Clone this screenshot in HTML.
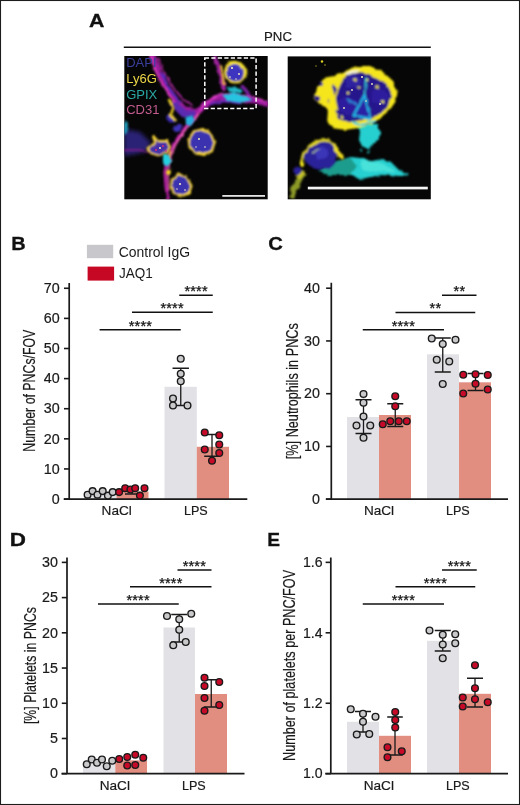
<!DOCTYPE html>
<html><head><meta charset="utf-8"><title>Figure</title>
<style>
html,body{margin:0;padding:0;background:#fff}
svg{display:block}
text{font-family:"Liberation Sans",sans-serif;fill:#1a1a1a}
.yt{stroke:#1a1a1a;stroke-width:0.2px}
.tk{stroke:#1a1a1a;stroke-width:0.2px}
.st{fill:#111;stroke:#111;stroke-width:0.25px}
.pl{fill:#111;stroke:#111;stroke-width:0.3px}
</style></head><body>
<svg width="520" height="805" viewBox="0 0 520 805">
<rect x="0" y="0" width="520" height="805" fill="#fff"/>
<rect x="0.5" y="0.5" width="519" height="804" fill="none" stroke="#1c1c1c" stroke-width="1.1"/>

<text x="88.9" y="27.2" font-size="19" font-weight="bold" class="pl" textLength="15.4" lengthAdjust="spacingAndGlyphs">A</text>
<text x="11.2" y="249.6" font-size="19" font-weight="bold" class="pl" textLength="14.4" lengthAdjust="spacingAndGlyphs">B</text>
<text x="268.2" y="249.9" font-size="19" font-weight="bold" class="pl" textLength="14.6" lengthAdjust="spacingAndGlyphs">C</text>
<text x="9.8" y="546" font-size="19" font-weight="bold" class="pl" textLength="16.2" lengthAdjust="spacingAndGlyphs">D</text>
<text x="267.2" y="546.2" font-size="19" font-weight="bold" class="pl" textLength="12.8" lengthAdjust="spacingAndGlyphs">E</text>
<text x="278" y="40.9" text-anchor="middle" font-size="13.2" class="tk">PNC</text>
<path d="M123.8 47.25H430.8" stroke="#111" stroke-width="1.4"/>
<defs>
<filter id="b1" x="-30%" y="-30%" width="160%" height="160%"><feGaussianBlur stdDeviation="1"/></filter>
<filter id="b2" x="-30%" y="-30%" width="160%" height="160%"><feGaussianBlur stdDeviation="2"/></filter>
<filter id="b05" x="-30%" y="-30%" width="160%" height="160%"><feGaussianBlur stdDeviation="0.6"/></filter>
<filter id="r2" x="-20%" y="-20%" width="140%" height="140%"><feTurbulence type="fractalNoise" baseFrequency="0.12" numOctaves="2" seed="3" result="n"/><feDisplacementMap in="SourceGraphic" in2="n" scale="5" xChannelSelector="R" yChannelSelector="G"/><feGaussianBlur stdDeviation="0.9"/></filter>
<filter id="r3" x="-20%" y="-20%" width="140%" height="140%"><feTurbulence type="fractalNoise" baseFrequency="0.14" numOctaves="2" seed="11" result="n"/><feDisplacementMap in="SourceGraphic" in2="n" scale="3.2" xChannelSelector="R" yChannelSelector="G"/><feGaussianBlur stdDeviation="0.9"/></filter>
<filter id="r1" x="-20%" y="-20%" width="140%" height="140%"><feTurbulence type="fractalNoise" baseFrequency="0.16" numOctaves="2" seed="7" result="n"/><feDisplacementMap in="SourceGraphic" in2="n" scale="3" xChannelSelector="R" yChannelSelector="G"/><feGaussianBlur stdDeviation="0.9"/></filter>
<clipPath id="c1"><rect x="124.3" y="56" width="143.4" height="143.3"/></clipPath>
<clipPath id="c2"><rect x="287.7" y="56.4" width="143.1" height="142.9"/></clipPath>
</defs>
<rect x="124.3" y="56" width="143.4" height="143.3" fill="#060606"/>
<g clip-path="url(#c1)">
<!-- dim blue haze left -->
<path d="M124 129 L140 132 L151 143 L147 151 L136 154 L124 156Z" fill="#2c2274" filter="url(#b2)"/>
<!-- vessel: wide magenta body -->
<g filter="url(#r1)" fill="none" stroke-linecap="round" stroke-linejoin="round">
<path d="M152 54 L158 70 L166 86 L176 100 L186 110 L198 112" stroke="#9a1c9c" stroke-width="5.5"/>
<path d="M174 104 L184 114 L194 114" stroke="#5a2ab0" stroke-width="7"/>
<path d="M198 112 L206 104 L216 98 L230 97 L246 100 L258 101 L268 104" stroke="#a01ca0" stroke-width="5.5"/>
<path d="M200 112 L193 120 L185 128 L178 138 L172 148 L167 160 L165 172 L166 186 L168 200" stroke="#b822a4" stroke-width="3.2"/>
<path d="M215 58 L219 68 L222 80 L224 90" stroke="#a020a0" stroke-width="4"/>
<path d="M242 86 L248 94 L252 100" stroke="#7a22a0" stroke-width="3.5"/>
<path d="M124 150 L140 150 L150 152" stroke="#8a1c8a" stroke-width="1.6"/>
<!-- bright edges -->
<path d="M150 56 L156 72 L164 88 L174 102" stroke="#f040d0" stroke-width="1.6"/>
<path d="M158 58 L164 72 L172 86 L182 98 L192 106" stroke="#d030c0" stroke-width="1.4"/>
<path d="M200 109 L208 101 L218 95 L232 94 L250 97 L266 101" stroke="#e040c8" stroke-width="1.5"/>
<path d="M199 114 L191 123 L183 133 L176 144 L170 158 L168 172 L169 190" stroke="#f060b8" stroke-width="1.5"/>
<!-- purple/blue inner -->
<path d="M162 74 L170 90 L180 102" stroke="#5a2cc0" stroke-width="2.5"/>
<path d="M210 104 L224 101 L240 103" stroke="#6a2cc0" stroke-width="2.5"/>
</g>
<!-- nuclei in vessel -->
<g filter="url(#r1)">
<ellipse cx="171" cy="119" rx="5" ry="4" fill="#3a2cb0" transform="rotate(40 171 119)"/>
<ellipse cx="178" cy="128" rx="5" ry="3.5" fill="#4030b8" transform="rotate(-35 178 128)"/>
<path d="M169 100 L173 108 L171 115 L175 120" fill="none" stroke="#f0d020" stroke-width="2.4" stroke-linecap="round"/>
<path d="M221 66 L223 76 L223.500 84" fill="none" stroke="#f0c830" stroke-width="2" stroke-linecap="round"/>
<circle cx="168.500" cy="172.500" r="2.4" fill="#f4d820"/>
<path d="M171 150 L167 162" fill="none" stroke="#f0d020" stroke-width="1.6"/>
</g>
<!-- cyan patches -->
<g filter="url(#r1)">
<path d="M185.500 117 L192 115 L194.500 120 L191 126 L186 124.500Z" fill="#28b0e0"/>
<path d="M163 154 L169 155 L171 162 L168 166 L163 163Z" fill="#22d0e0"/>
<path d="M226 87 L240 88 L243 92 L232 93Z" fill="#20b8c8"/>
<path d="M222 95 L234 93 L246 96 L252 100 L240 103 L228 101Z" fill="#28c4e0"/>
<path d="M124 120 L128 124 L127 133 L124 134Z" fill="#20a0c0"/>
</g>
<!-- cells -->
<g filter="url(#r1)">
<!-- cell1 in box -->
<ellipse cx="235" cy="72.500" rx="10" ry="10" fill="#3c34c0" stroke="#f4dc28" stroke-width="2.2"/>
<path d="M230 63 C238 60 246 66 246 76" fill="none" stroke="#f8e428" stroke-width="3" stroke-linecap="round"/>
<!-- cell2 -->
<path d="M188.500 139 L194 131 L203 129 L211 134 L214.500 143 L212 151 L204 155 L195 153 L189.500 147Z" fill="#3a30b0" stroke="#ffdc30" stroke-width="2" stroke-linejoin="round"/>
<!-- cell3 -->
<path d="M147.500 148 L155 143 L153 136.500 L159 141 L167 141 L170 147 L167 153 L158 155.500 L150 153Z" fill="#4a30a8" stroke="#ffdc30" stroke-width="1.8" stroke-linejoin="round"/>
<!-- cell4 -->
<path d="M171.500 180 L178 174.500 L186 176 L191.500 186 L189 193 L181 196.500 L174 194 L171.500 187Z" fill="#3a30b0" stroke="#ffdc30" stroke-width="2" stroke-linejoin="round"/>
</g>
<g filter="url(#b05)">
<g fill="#fff6c8">
<circle cx="232" cy="68" r="1"/><circle cx="239" cy="74" r="0.9"/><circle cx="230" cy="77" r="0.8"/><circle cx="236" cy="79" r="0.7"/>
<circle cx="199" cy="139" r="0.9"/><circle cx="205" cy="147" r="0.8"/><circle cx="196" cy="147" r="0.7"/><circle cx="180" cy="184" r="1"/><circle cx="185" cy="190" r="0.8"/><circle cx="177" cy="189" r="0.7"/>
<circle cx="160" cy="148" r="0.9"/>
</g>
<g fill="#e03070"><circle cx="156" cy="150" r="0.9"/><circle cx="163" cy="146" r="0.9"/><circle cx="166" cy="151" r="0.8"/></g>
</g>
<!-- dashed box -->
<rect x="204.8" y="57.900" width="51.3" height="50.5" fill="none" stroke="#fff" stroke-width="1.5" stroke-dasharray="4.2 2.3"/>
<!-- scale bar -->
<rect x="222.3" y="195" width="42.7" height="1.8" fill="#e4e4e4"/>
</g>
<g font-size="13">
<text x="126.2" y="67.2" style="fill:#3a3e9c">DAPI</text>
<text x="126.2" y="82.8" style="fill:#ecd548">Ly6G</text>
<text x="126.2" y="98.5" style="fill:#2aa8a4">GPIX</text>
<text x="126.2" y="113.9" style="fill:#c25c8e">CD31</text>
</g>

<rect x="287.7" y="56.4" width="143.1" height="142.9" fill="#060606"/>
<g clip-path="url(#c2)">
<!-- cyan stalk + horizontal spread -->
<g filter="url(#r2)">
<path d="M356 124 L378 124 L380 132 L378 140 L373 145 L368 149 L362 146 L359 140 L360 132Z" fill="#27cfd0"/>
<circle cx="368.500" cy="151.500" r="1.3" fill="#27cfd0"/><circle cx="361" cy="150" r="1" fill="#27cfd0"/>
<path d="M351 157 L360 158 L371 161 L383 159 L392 163 L398 169 L409 175 L398 177 L382 175 L370 177 L360 179 L352 175 L338 175 L328 175 L319 171 L326 166 L337 161Z" fill="#27cfd0"/>
<path d="M319 171 L326 166 L337 161 L351 158 L356 166 L350 175 L338 175 L328 175Z" fill="#1c9c8c"/>
<path d="M360 161 L384 163 L396 171 L378 172 L362 169Z" fill="#48e2da"/>
</g>
<!-- yellow-green trail -->
<g filter="url(#r2)">
<path d="M289 197 L292 186 L297 178 L303 172 L307 174 L301 182 L297 190 L294 198Z" fill="#8c9a28"/>
<path d="M296 176 L303 170 L306 173 L300 179Z" fill="#c8c428"/>
<circle cx="298" cy="170.5" r="3.6" fill="#2a249a"/>
</g>
<!-- small cell -->
<g filter="url(#r2)">
<path d="M304 158 L307 148 L315 142 L326 141 L334 146 L338 153 L336 162 L330 168 L320 170 L310 167Z" fill="#2a2298"/>
<path d="M314 150 L322 146 L328 150 L326 158 L318 160Z" fill="#3a34b8"/>
<path d="M302 164 L304 155 L308 147 L316 141.5 L327 140 L335 145 L339 152 L342.5 157.500" fill="none" stroke="#e0d422" stroke-width="2.6" stroke-linecap="round" stroke-linejoin="round"/>
<circle cx="302.5" cy="163.5" r="2.6" fill="#f4e820"/>
<path d="M334 146 L339 152 L342 158" fill="none" stroke="#f0e020" stroke-width="3" stroke-linecap="round"/>
<path d="M312 152 L320 149" stroke="#a8b890" stroke-width="1.4" fill="none"/>
</g>
<!-- big cell -->
<g filter="url(#r3)">
<path d="M342.500 73.200 L355 66 L370 66 L382.300 71.400 L391.400 79.500 L397.700 89.500 L396 101 L389.600 110.200 L380.500 117.500 L371.500 124.700 L360.600 127.400 L346.200 130.100 L333.500 128.300 L327.200 121.100 L328 110.200 L320.800 104.800 L314.500 99.400 L317.200 86.700 L324.500 77.700 L333.500 75.900Z" fill="#f4e51c"/>
<path d="M344.400 76.500 L360.600 72 L369.700 74.500 L386 84 L391.500 95.800 L387 108 L376.900 115.700 L364.200 119.300 L349.800 122.500 L338 119 L334.500 106.600 L336 95.800 L339.500 86.700Z" fill="#27198c"/>
<!-- left mottling -->
<circle cx="317.500" cy="98.500" r="2.6" fill="#27198c"/>
<circle cx="321" cy="84" r="2" fill="#3a2ca0"/>
<circle cx="330" cy="100" r="2.200" fill="#27198c"/>
<path d="M327 88 L333 84 L337 90 L333 97 L328 95Z" fill="#2f2298"/>
<path d="M325.400 80 L331 84 L335 96 L338 110 L333 110 L328 98 L323 88Z" fill="#f4e51c"/>
<!-- lighter lobes -->
<path d="M345 78 L356 75 L362 81 L357 88 L347 87Z" fill="#2e20a0"/>
<path d="M337 101 L347 97 L356 100 L358 110 L348 115 L340 111Z" fill="#2d1f9e"/>
<path d="M372 90 L384 89 L388 98 L380 106 L372 101Z" fill="#2d1f9e"/>
<!-- highlights -->
<path d="M344 74 L352 70.500 L360 70 L356 73.500 L348 76Z" fill="#f4f0d8"/>
<g fill="#ece04a"><circle cx="355" cy="80" r="1.8"/><circle cx="359" cy="87" r="1.6"/><circle cx="377" cy="87" r="1.7"/><circle cx="382.500" cy="101" r="1.7"/><circle cx="342.500" cy="117" r="2"/><circle cx="367" cy="80" r="1.4"/><circle cx="348" cy="93" r="1.3"/></g>
<!-- cyan triangle -->
<path d="M364.500 95 L353.500 115.500 L370.500 119Z" fill="#2c22a4" stroke="#22b2e4" stroke-width="2.300" stroke-linejoin="round"/>
<path d="M366 77 L365 88 L364.500 95" stroke="#30c8d8" stroke-width="1.400" fill="none"/>
<path d="M347 99 L357 105" stroke="#2aa6e6" stroke-width="1.300" fill="none"/>
<path d="M352 122.500 L364 124.500 L376 121" stroke="#40d0e0" stroke-width="2" fill="none"/>
</g>
<g filter="url(#b05)" fill="#f4f0c0">
<circle cx="362" cy="77" r="1"/><circle cx="372" cy="84" r="0.900"/><circle cx="352" cy="90" r="0.900"/><circle cx="380" cy="104" r="0.900"/><circle cx="344" cy="108" r="0.900"/><circle cx="366" cy="101" r="0.800"/>
<circle cx="322" cy="61.500" r="1.200" fill="#d8d020"/><circle cx="325" cy="65" r="0.800" fill="#a8a020"/><circle cx="316" cy="66" r="0.800" fill="#8a8420"/>
</g>
<rect x="307.8" y="186.7" width="120" height="2.7" fill="#f4f4f4"/>
</g>

<rect x="86.9" y="244.8" width="26.3" height="13.4" fill="#c8c8cc"/>
<rect x="87.6" y="266.6" width="26.5" height="14" fill="#c70824"/>
<text x="118.7" y="256.7" font-size="14" textLength="71.3" lengthAdjust="spacingAndGlyphs">Control IgG</text>
<text x="118.9" y="278.2" font-size="14" textLength="33.8" lengthAdjust="spacingAndGlyphs">JAQ1</text>
<rect x="84.5" y="494.5" width="32.0" height="4.550000000000011" fill="#e2e1e6"/>
<rect x="116.5" y="491.6" width="32.0" height="7.449999999999989" fill="#e18e80"/>
<rect x="164.5" y="386.8" width="32.30000000000001" height="112.25" fill="#e2e1e6"/>
<rect x="196.8" y="446.8" width="32.19999999999999" height="52.25" fill="#e18e80"/>
<path d="M69.2 282.9V499.05M63.7 499.05H247.3" stroke="#1a1a1a" stroke-width="1.7" fill="none"/>
<path d="M64.0 499.05H69.2" stroke="#1a1a1a" stroke-width="1.6"/>
<text x="59.6" y="503.75" text-anchor="end" font-size="14.3" class="tk">0</text>
<path d="M64.0 468.94H69.2" stroke="#1a1a1a" stroke-width="1.6"/>
<text x="59.6" y="473.64" text-anchor="end" font-size="14.3" class="tk">10</text>
<path d="M64.0 438.83H69.2" stroke="#1a1a1a" stroke-width="1.6"/>
<text x="59.6" y="443.53" text-anchor="end" font-size="14.3" class="tk">20</text>
<path d="M64.0 408.72H69.2" stroke="#1a1a1a" stroke-width="1.6"/>
<text x="59.6" y="413.42" text-anchor="end" font-size="14.3" class="tk">30</text>
<path d="M64.0 378.61H69.2" stroke="#1a1a1a" stroke-width="1.6"/>
<text x="59.6" y="383.31" text-anchor="end" font-size="14.3" class="tk">40</text>
<path d="M64.0 348.5H69.2" stroke="#1a1a1a" stroke-width="1.6"/>
<text x="59.6" y="353.2" text-anchor="end" font-size="14.3" class="tk">50</text>
<path d="M64.0 318.39H69.2" stroke="#1a1a1a" stroke-width="1.6"/>
<text x="59.6" y="323.09" text-anchor="end" font-size="14.3" class="tk">60</text>
<path d="M64.0 288.28H69.2" stroke="#1a1a1a" stroke-width="1.6"/>
<text x="59.6" y="292.97999999999996" text-anchor="end" font-size="14.3" class="tk">70</text>
<path d="M180.75 368.25V405.5M172.55 368.25H188.95M172.55 405.5H188.95" stroke="#1a1a1a" stroke-width="1.3" fill="none"/>
<path d="M212 434.5V456.25M204.2 434.5H219.8M204.2 456.25H219.8" stroke="#1a1a1a" stroke-width="1.3" fill="none"/>
<path d="M132 489.2V494M125 489.2H139M125 494H139" stroke="#1a1a1a" stroke-width="1.3" fill="none"/>
<circle cx="87.6" cy="494.7" r="3.35" fill="#c9c9cc" stroke="#1a1a1a" stroke-width="1.4"/>
<circle cx="92.6" cy="491.1" r="3.35" fill="#c9c9cc" stroke="#1a1a1a" stroke-width="1.4"/>
<circle cx="97.5" cy="494.7" r="3.35" fill="#c9c9cc" stroke="#1a1a1a" stroke-width="1.4"/>
<circle cx="102.7" cy="491.1" r="3.35" fill="#c9c9cc" stroke="#1a1a1a" stroke-width="1.4"/>
<circle cx="107.9" cy="495.6" r="3.35" fill="#c9c9cc" stroke="#1a1a1a" stroke-width="1.4"/>
<circle cx="112.7" cy="492.1" r="3.35" fill="#c9c9cc" stroke="#1a1a1a" stroke-width="1.4"/>
<circle cx="119.1" cy="492.1" r="3.35" fill="#c60a28" stroke="#1a1a1a" stroke-width="1.4"/>
<circle cx="125.2" cy="488.2" r="3.35" fill="#c60a28" stroke="#1a1a1a" stroke-width="1.4"/>
<circle cx="130.4" cy="489.5" r="3.35" fill="#c60a28" stroke="#1a1a1a" stroke-width="1.4"/>
<circle cx="135.2" cy="488.2" r="3.35" fill="#c60a28" stroke="#1a1a1a" stroke-width="1.4"/>
<circle cx="139.9" cy="495.6" r="3.35" fill="#c60a28" stroke="#1a1a1a" stroke-width="1.4"/>
<circle cx="144.5" cy="488.2" r="3.35" fill="#c60a28" stroke="#1a1a1a" stroke-width="1.4"/>
<circle cx="180.75" cy="358.75" r="3.35" fill="#c9c9cc" stroke="#1a1a1a" stroke-width="1.4"/>
<circle cx="180.75" cy="373.75" r="3.35" fill="#c9c9cc" stroke="#1a1a1a" stroke-width="1.4"/>
<circle cx="180.75" cy="381.25" r="3.35" fill="#c9c9cc" stroke="#1a1a1a" stroke-width="1.4"/>
<circle cx="173" cy="398.5" r="3.35" fill="#c9c9cc" stroke="#1a1a1a" stroke-width="1.4"/>
<circle cx="173" cy="405.5" r="3.35" fill="#c9c9cc" stroke="#1a1a1a" stroke-width="1.4"/>
<circle cx="187.5" cy="405.5" r="3.35" fill="#c9c9cc" stroke="#1a1a1a" stroke-width="1.4"/>
<circle cx="204.75" cy="432.5" r="3.35" fill="#c60a28" stroke="#1a1a1a" stroke-width="1.4"/>
<circle cx="219.25" cy="435.25" r="3.35" fill="#c60a28" stroke="#1a1a1a" stroke-width="1.4"/>
<circle cx="219.25" cy="444.5" r="3.35" fill="#c60a28" stroke="#1a1a1a" stroke-width="1.4"/>
<circle cx="204.75" cy="449.5" r="3.35" fill="#c60a28" stroke="#1a1a1a" stroke-width="1.4"/>
<circle cx="219.25" cy="453" r="3.35" fill="#c60a28" stroke="#1a1a1a" stroke-width="1.4"/>
<circle cx="212" cy="460.75" r="3.35" fill="#c60a28" stroke="#1a1a1a" stroke-width="1.4"/>
<path d="M179.25 295.3H212.75" stroke="#111" stroke-width="1.5"/>
<text x="196" y="296.2" text-anchor="middle" font-size="14.5" class="st" textLength="23.2" lengthAdjust="spacing">****</text>
<path d="M132 312.3H212.75" stroke="#111" stroke-width="1.5"/>
<text x="172" y="313.2" text-anchor="middle" font-size="14.5" class="st" textLength="23.2" lengthAdjust="spacing">****</text>
<path d="M99.6 329.7H180.75" stroke="#111" stroke-width="1.5"/>
<text x="140.3" y="330.59999999999997" text-anchor="middle" font-size="14.5" class="st" textLength="23.2" lengthAdjust="spacing">****</text>
<text x="116.7" y="514.8" text-anchor="middle" font-size="13.6" class="tk">NaCl</text>
<text x="195.8" y="514.8" text-anchor="middle" font-size="13.6" class="tk" textLength="23.8" lengthAdjust="spacingAndGlyphs">LPS</text>
<text transform="translate(35 390.65) rotate(-90)" text-anchor="middle" font-size="17" class="yt" textLength="122" lengthAdjust="spacingAndGlyphs">Number of PNCs/FOV</text>
<rect x="347" y="417" width="32" height="82.19999999999999" fill="#e2e1e6"/>
<rect x="379" y="415" width="32" height="84.19999999999999" fill="#e18e80"/>
<rect x="427" y="354.3" width="32" height="144.89999999999998" fill="#e2e1e6"/>
<rect x="459" y="382.3" width="32" height="116.89999999999998" fill="#e18e80"/>
<path d="M331.3 282.7V499.2M325.8 499.2H508" stroke="#1a1a1a" stroke-width="1.7" fill="none"/>
<path d="M326.1 499.2H331.3" stroke="#1a1a1a" stroke-width="1.6"/>
<text x="320" y="503.9" text-anchor="end" font-size="14.3" class="tk">0</text>
<path d="M326.1 446.45H331.3" stroke="#1a1a1a" stroke-width="1.6"/>
<text x="320" y="451.15" text-anchor="end" font-size="14.3" class="tk">10</text>
<path d="M326.1 393.7H331.3" stroke="#1a1a1a" stroke-width="1.6"/>
<text x="320" y="398.4" text-anchor="end" font-size="14.3" class="tk">20</text>
<path d="M326.1 340.95H331.3" stroke="#1a1a1a" stroke-width="1.6"/>
<text x="320" y="345.65" text-anchor="end" font-size="14.3" class="tk">30</text>
<path d="M326.1 288.2H331.3" stroke="#1a1a1a" stroke-width="1.6"/>
<text x="320" y="292.9" text-anchor="end" font-size="14.3" class="tk">40</text>
<path d="M363.5 399.75V433.5M355.5 399.75H371.5M355.5 433.5H371.5" stroke="#1a1a1a" stroke-width="1.3" fill="none"/>
<path d="M395.25 403.75V426.5M387.25 403.75H403.25M387.25 426.5H403.25" stroke="#1a1a1a" stroke-width="1.3" fill="none"/>
<path d="M442.75 338V372M434.75 338H450.75M434.75 372H450.75" stroke="#1a1a1a" stroke-width="1.3" fill="none"/>
<path d="M475.5 373.5V390.5M467.5 373.5H483.5M467.5 390.5H483.5" stroke="#1a1a1a" stroke-width="1.3" fill="none"/>
<circle cx="363.5" cy="394" r="3.35" fill="#c9c9cc" stroke="#1a1a1a" stroke-width="1.4"/>
<circle cx="363.5" cy="402.75" r="3.35" fill="#c9c9cc" stroke="#1a1a1a" stroke-width="1.4"/>
<circle cx="363.5" cy="416.5" r="3.35" fill="#c9c9cc" stroke="#1a1a1a" stroke-width="1.4"/>
<circle cx="356.5" cy="425.5" r="3.35" fill="#c9c9cc" stroke="#1a1a1a" stroke-width="1.4"/>
<circle cx="370.25" cy="425.5" r="3.35" fill="#c9c9cc" stroke="#1a1a1a" stroke-width="1.4"/>
<circle cx="363.5" cy="437.75" r="3.35" fill="#c9c9cc" stroke="#1a1a1a" stroke-width="1.4"/>
<circle cx="395.25" cy="396.25" r="3.35" fill="#c60a28" stroke="#1a1a1a" stroke-width="1.4"/>
<circle cx="395.25" cy="406.25" r="3.35" fill="#c60a28" stroke="#1a1a1a" stroke-width="1.4"/>
<circle cx="382.75" cy="424.25" r="3.35" fill="#c60a28" stroke="#1a1a1a" stroke-width="1.4"/>
<circle cx="390.25" cy="421.25" r="3.35" fill="#c60a28" stroke="#1a1a1a" stroke-width="1.4"/>
<circle cx="398.75" cy="421.25" r="3.35" fill="#c60a28" stroke="#1a1a1a" stroke-width="1.4"/>
<circle cx="406.75" cy="421.25" r="3.35" fill="#c60a28" stroke="#1a1a1a" stroke-width="1.4"/>
<circle cx="431.75" cy="338.5" r="3.35" fill="#c9c9cc" stroke="#1a1a1a" stroke-width="1.4"/>
<circle cx="455.5" cy="339.75" r="3.35" fill="#c9c9cc" stroke="#1a1a1a" stroke-width="1.4"/>
<circle cx="442.75" cy="344" r="3.35" fill="#c9c9cc" stroke="#1a1a1a" stroke-width="1.4"/>
<circle cx="436.75" cy="359.75" r="3.35" fill="#c9c9cc" stroke="#1a1a1a" stroke-width="1.4"/>
<circle cx="449.25" cy="361.5" r="3.35" fill="#c9c9cc" stroke="#1a1a1a" stroke-width="1.4"/>
<circle cx="442.75" cy="384" r="3.35" fill="#c9c9cc" stroke="#1a1a1a" stroke-width="1.4"/>
<circle cx="463.25" cy="374.75" r="3.35" fill="#c60a28" stroke="#1a1a1a" stroke-width="1.4"/>
<circle cx="475.5" cy="374.25" r="3.35" fill="#c60a28" stroke="#1a1a1a" stroke-width="1.4"/>
<circle cx="487.75" cy="375" r="3.35" fill="#c60a28" stroke="#1a1a1a" stroke-width="1.4"/>
<circle cx="475.5" cy="383.75" r="3.35" fill="#c60a28" stroke="#1a1a1a" stroke-width="1.4"/>
<circle cx="463.25" cy="393.5" r="3.35" fill="#c60a28" stroke="#1a1a1a" stroke-width="1.4"/>
<circle cx="487.75" cy="389.5" r="3.35" fill="#c60a28" stroke="#1a1a1a" stroke-width="1.4"/>
<path d="M442 295.3H476.5" stroke="#111" stroke-width="1.5"/>
<text x="459.25" y="296.2" text-anchor="middle" font-size="14.5" class="st" textLength="11.6" lengthAdjust="spacing">**</text>
<path d="M395.5 312.5H475.25" stroke="#111" stroke-width="1.5"/>
<text x="435.25" y="313.4" text-anchor="middle" font-size="14.5" class="st" textLength="11.6" lengthAdjust="spacing">**</text>
<path d="M362.75 329.7H444" stroke="#111" stroke-width="1.5"/>
<text x="403.25" y="330.59999999999997" text-anchor="middle" font-size="14.5" class="st" textLength="23.2" lengthAdjust="spacing">****</text>
<text x="379" y="514.8" text-anchor="middle" font-size="13.6" class="tk">NaCl</text>
<text x="457.8" y="514.8" text-anchor="middle" font-size="13.6" class="tk" textLength="23.8" lengthAdjust="spacingAndGlyphs">LPS</text>
<text transform="translate(297.6 391.2) rotate(-90)" text-anchor="middle" font-size="17" class="yt" textLength="136" lengthAdjust="spacingAndGlyphs">[%] Neutrophils in PNCs</text>
<rect x="83" y="763.8" width="32.3" height="9.900000000000091" fill="#e2e1e6"/>
<rect x="115.3" y="760.3" width="31.700000000000003" height="13.400000000000091" fill="#e18e80"/>
<rect x="163.5" y="627.5" width="31.5" height="146.20000000000005" fill="#e2e1e6"/>
<rect x="195" y="694" width="32" height="79.70000000000005" fill="#e18e80"/>
<path d="M67 557.5V773.7M61.5 773.7H244.5" stroke="#1a1a1a" stroke-width="1.7" fill="none"/>
<path d="M61.8 773.7H67" stroke="#1a1a1a" stroke-width="1.6"/>
<text x="58" y="778.4000000000001" text-anchor="end" font-size="14.3" class="tk">0</text>
<path d="M61.8 738.48H67" stroke="#1a1a1a" stroke-width="1.6"/>
<text x="58" y="743.1800000000001" text-anchor="end" font-size="14.3" class="tk">5</text>
<path d="M61.8 703.26H67" stroke="#1a1a1a" stroke-width="1.6"/>
<text x="58" y="707.96" text-anchor="end" font-size="14.3" class="tk">10</text>
<path d="M61.8 668.04H67" stroke="#1a1a1a" stroke-width="1.6"/>
<text x="58" y="672.74" text-anchor="end" font-size="14.3" class="tk">15</text>
<path d="M61.8 632.82H67" stroke="#1a1a1a" stroke-width="1.6"/>
<text x="58" y="637.5200000000001" text-anchor="end" font-size="14.3" class="tk">20</text>
<path d="M61.8 597.6H67" stroke="#1a1a1a" stroke-width="1.6"/>
<text x="58" y="602.3000000000001" text-anchor="end" font-size="14.3" class="tk">25</text>
<path d="M61.8 562.38H67" stroke="#1a1a1a" stroke-width="1.6"/>
<text x="58" y="567.08" text-anchor="end" font-size="14.3" class="tk">30</text>
<path d="M179.25 614.5V642M171.25 614.5H187.25M171.25 642H187.25" stroke="#1a1a1a" stroke-width="1.3" fill="none"/>
<path d="M211.25 679.75V707M203.75 679.75H218.75M203.75 707H218.75" stroke="#1a1a1a" stroke-width="1.3" fill="none"/>
<circle cx="86.75" cy="764.25" r="3.35" fill="#c9c9cc" stroke="#1a1a1a" stroke-width="1.4"/>
<circle cx="91.75" cy="759.5" r="3.35" fill="#c9c9cc" stroke="#1a1a1a" stroke-width="1.4"/>
<circle cx="97" cy="762.75" r="3.35" fill="#c9c9cc" stroke="#1a1a1a" stroke-width="1.4"/>
<circle cx="102" cy="759.5" r="3.35" fill="#c9c9cc" stroke="#1a1a1a" stroke-width="1.4"/>
<circle cx="106.75" cy="766.25" r="3.35" fill="#c9c9cc" stroke="#1a1a1a" stroke-width="1.4"/>
<circle cx="112.25" cy="760.75" r="3.35" fill="#c9c9cc" stroke="#1a1a1a" stroke-width="1.4"/>
<circle cx="119.25" cy="759" r="3.35" fill="#c60a28" stroke="#1a1a1a" stroke-width="1.4"/>
<circle cx="127.25" cy="757" r="3.35" fill="#c60a28" stroke="#1a1a1a" stroke-width="1.4"/>
<circle cx="135.25" cy="754.75" r="3.35" fill="#c60a28" stroke="#1a1a1a" stroke-width="1.4"/>
<circle cx="143.25" cy="757.75" r="3.35" fill="#c60a28" stroke="#1a1a1a" stroke-width="1.4"/>
<circle cx="127.25" cy="765.5" r="3.35" fill="#c60a28" stroke="#1a1a1a" stroke-width="1.4"/>
<circle cx="135.25" cy="765" r="3.35" fill="#c60a28" stroke="#1a1a1a" stroke-width="1.4"/>
<circle cx="167" cy="616" r="3.35" fill="#c9c9cc" stroke="#1a1a1a" stroke-width="1.4"/>
<circle cx="191.25" cy="613.75" r="3.35" fill="#c9c9cc" stroke="#1a1a1a" stroke-width="1.4"/>
<circle cx="179.25" cy="619.25" r="3.35" fill="#c9c9cc" stroke="#1a1a1a" stroke-width="1.4"/>
<circle cx="179.25" cy="629.75" r="3.35" fill="#c9c9cc" stroke="#1a1a1a" stroke-width="1.4"/>
<circle cx="185.75" cy="642" r="3.35" fill="#c9c9cc" stroke="#1a1a1a" stroke-width="1.4"/>
<circle cx="173.25" cy="645.25" r="3.35" fill="#c9c9cc" stroke="#1a1a1a" stroke-width="1.4"/>
<circle cx="204.5" cy="677.75" r="3.35" fill="#c60a28" stroke="#1a1a1a" stroke-width="1.4"/>
<circle cx="219.25" cy="682" r="3.35" fill="#c60a28" stroke="#1a1a1a" stroke-width="1.4"/>
<circle cx="204.5" cy="686" r="3.35" fill="#c60a28" stroke="#1a1a1a" stroke-width="1.4"/>
<circle cx="204.5" cy="698" r="3.35" fill="#c60a28" stroke="#1a1a1a" stroke-width="1.4"/>
<circle cx="219.25" cy="705" r="3.35" fill="#c60a28" stroke="#1a1a1a" stroke-width="1.4"/>
<circle cx="204.5" cy="710.75" r="3.35" fill="#c60a28" stroke="#1a1a1a" stroke-width="1.4"/>
<path d="M177.5 570H211.5" stroke="#111" stroke-width="1.5"/>
<text x="194.25" y="570.9" text-anchor="middle" font-size="14.5" class="st" textLength="23.2" lengthAdjust="spacing">****</text>
<path d="M130 586.8H211.5" stroke="#111" stroke-width="1.5"/>
<text x="170.75" y="587.6999999999999" text-anchor="middle" font-size="14.5" class="st" textLength="23.2" lengthAdjust="spacing">****</text>
<path d="M98 604.1H178.75" stroke="#111" stroke-width="1.5"/>
<text x="138" y="605.0" text-anchor="middle" font-size="14.5" class="st" textLength="23.2" lengthAdjust="spacing">****</text>
<text x="114.8" y="790.2" text-anchor="middle" font-size="13.6" class="tk">NaCl</text>
<text x="193.8" y="790.2" text-anchor="middle" font-size="13.6" class="tk" textLength="23.8" lengthAdjust="spacingAndGlyphs">LPS</text>
<text transform="translate(35.8 665.55) rotate(-90)" text-anchor="middle" font-size="17" class="yt" textLength="117.1" lengthAdjust="spacingAndGlyphs">[%] Platelets in PNCs</text>
<rect x="347" y="721.8" width="32" height="51.90000000000009" fill="#e2e1e6"/>
<rect x="379" y="735.8" width="32" height="37.90000000000009" fill="#e18e80"/>
<rect x="427" y="640.8" width="32" height="132.9000000000001" fill="#e2e1e6"/>
<rect x="459" y="693.8" width="32" height="79.90000000000009" fill="#e18e80"/>
<path d="M330.8 557.5V773.7M325.3 773.7H508" stroke="#1a1a1a" stroke-width="1.7" fill="none"/>
<path d="M325.6 773.7H330.8" stroke="#1a1a1a" stroke-width="1.6"/>
<text x="322.6" y="778.4000000000001" text-anchor="end" font-size="14.3" class="tk" textLength="19.6" lengthAdjust="spacingAndGlyphs">1.0</text>
<path d="M325.6 703.25H330.8" stroke="#1a1a1a" stroke-width="1.6"/>
<text x="322.6" y="707.95" text-anchor="end" font-size="14.3" class="tk" textLength="19.6" lengthAdjust="spacingAndGlyphs">1.2</text>
<path d="M325.6 632.8H330.8" stroke="#1a1a1a" stroke-width="1.6"/>
<text x="322.6" y="637.5" text-anchor="end" font-size="14.3" class="tk" textLength="19.6" lengthAdjust="spacingAndGlyphs">1.4</text>
<path d="M325.6 562.35H330.8" stroke="#1a1a1a" stroke-width="1.6"/>
<text x="322.6" y="567.0500000000001" text-anchor="end" font-size="14.3" class="tk" textLength="19.6" lengthAdjust="spacingAndGlyphs">1.6</text>
<path d="M363 711.5V732M355 711.5H371M355 732H371" stroke="#1a1a1a" stroke-width="1.3" fill="none"/>
<path d="M395 717V755M387.2 717H402.8M387.2 755H402.8" stroke="#1a1a1a" stroke-width="1.3" fill="none"/>
<path d="M442.75 630.5V651M434.75 630.5H450.75M434.75 651H450.75" stroke="#1a1a1a" stroke-width="1.3" fill="none"/>
<path d="M475 678.25V707M467 678.25H483M467 707H483" stroke="#1a1a1a" stroke-width="1.3" fill="none"/>
<circle cx="350.75" cy="709.25" r="3.35" fill="#c9c9cc" stroke="#1a1a1a" stroke-width="1.4"/>
<circle cx="363" cy="713.75" r="3.35" fill="#c9c9cc" stroke="#1a1a1a" stroke-width="1.4"/>
<circle cx="375.5" cy="716.75" r="3.35" fill="#c9c9cc" stroke="#1a1a1a" stroke-width="1.4"/>
<circle cx="363" cy="721.75" r="3.35" fill="#c9c9cc" stroke="#1a1a1a" stroke-width="1.4"/>
<circle cx="356.75" cy="734.5" r="3.35" fill="#c9c9cc" stroke="#1a1a1a" stroke-width="1.4"/>
<circle cx="369.25" cy="734" r="3.35" fill="#c9c9cc" stroke="#1a1a1a" stroke-width="1.4"/>
<circle cx="395.25" cy="712" r="3.35" fill="#c60a28" stroke="#1a1a1a" stroke-width="1.4"/>
<circle cx="395.25" cy="720" r="3.35" fill="#c60a28" stroke="#1a1a1a" stroke-width="1.4"/>
<circle cx="395.25" cy="727.5" r="3.35" fill="#c60a28" stroke="#1a1a1a" stroke-width="1.4"/>
<circle cx="387.5" cy="747.25" r="3.35" fill="#c60a28" stroke="#1a1a1a" stroke-width="1.4"/>
<circle cx="401.75" cy="751.25" r="3.35" fill="#c60a28" stroke="#1a1a1a" stroke-width="1.4"/>
<circle cx="387.5" cy="757.25" r="3.35" fill="#c60a28" stroke="#1a1a1a" stroke-width="1.4"/>
<circle cx="429.5" cy="630.5" r="3.35" fill="#c9c9cc" stroke="#1a1a1a" stroke-width="1.4"/>
<circle cx="442.75" cy="634.75" r="3.35" fill="#c9c9cc" stroke="#1a1a1a" stroke-width="1.4"/>
<circle cx="455.25" cy="634.25" r="3.35" fill="#c9c9cc" stroke="#1a1a1a" stroke-width="1.4"/>
<circle cx="442.75" cy="644.5" r="3.35" fill="#c9c9cc" stroke="#1a1a1a" stroke-width="1.4"/>
<circle cx="455.25" cy="643.25" r="3.35" fill="#c9c9cc" stroke="#1a1a1a" stroke-width="1.4"/>
<circle cx="442.75" cy="658.25" r="3.35" fill="#c9c9cc" stroke="#1a1a1a" stroke-width="1.4"/>
<circle cx="475" cy="665.25" r="3.35" fill="#c60a28" stroke="#1a1a1a" stroke-width="1.4"/>
<circle cx="475" cy="688.25" r="3.35" fill="#c60a28" stroke="#1a1a1a" stroke-width="1.4"/>
<circle cx="462.75" cy="697.5" r="3.35" fill="#c60a28" stroke="#1a1a1a" stroke-width="1.4"/>
<circle cx="475" cy="699.25" r="3.35" fill="#c60a28" stroke="#1a1a1a" stroke-width="1.4"/>
<circle cx="487.75" cy="702.25" r="3.35" fill="#c60a28" stroke="#1a1a1a" stroke-width="1.4"/>
<circle cx="462.75" cy="706.5" r="3.35" fill="#c60a28" stroke="#1a1a1a" stroke-width="1.4"/>
<path d="M442 570H476.75" stroke="#111" stroke-width="1.5"/>
<text x="459.25" y="570.9" text-anchor="middle" font-size="14.5" class="st" textLength="23.2" lengthAdjust="spacing">****</text>
<path d="M395.5 586.8H475.25" stroke="#111" stroke-width="1.5"/>
<text x="435.25" y="587.6999999999999" text-anchor="middle" font-size="14.5" class="st" textLength="23.2" lengthAdjust="spacing">****</text>
<path d="M362.75 604.1H444" stroke="#111" stroke-width="1.5"/>
<text x="403.25" y="605.0" text-anchor="middle" font-size="14.5" class="st" textLength="23.2" lengthAdjust="spacing">****</text>
<text x="378.8" y="790.2" text-anchor="middle" font-size="13.6" class="tk">NaCl</text>
<text x="457.8" y="790.2" text-anchor="middle" font-size="13.6" class="tk" textLength="23.8" lengthAdjust="spacingAndGlyphs">LPS</text>
<text transform="translate(295.1 665.45) rotate(-90)" text-anchor="middle" font-size="17" class="yt" textLength="191.1" lengthAdjust="spacingAndGlyphs">Number of platelets per PNC/FOV</text>
</svg></body></html>
